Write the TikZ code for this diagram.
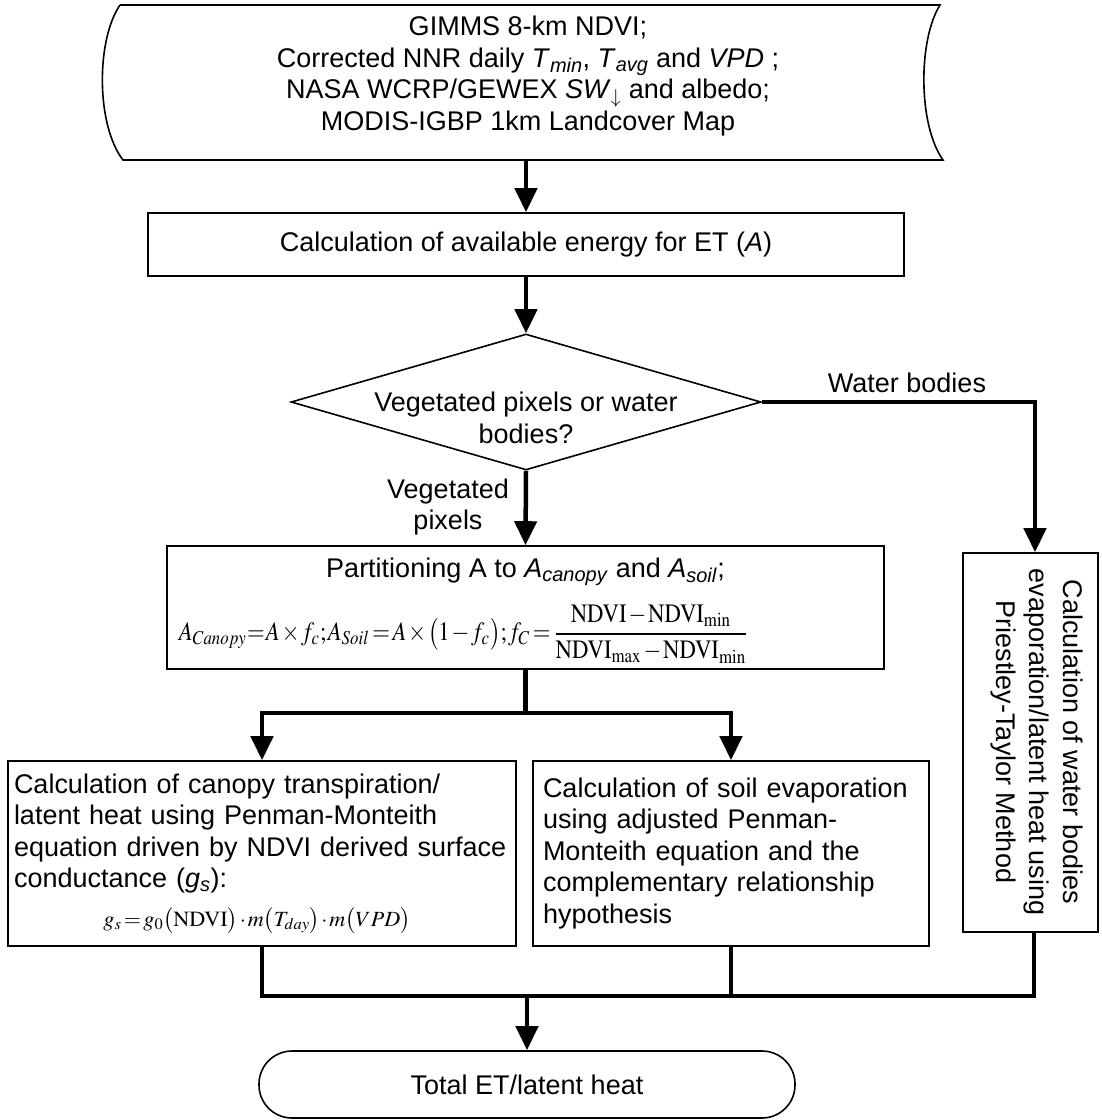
\documentclass[tikz,border=0pt]{standalone}
\usepackage{amsmath}
\usepackage{mathptmx}
\usepackage[no-math]{fontspec}
\setmainfont{Liberation Sans}
\usepackage{graphicx}
\usetikzlibrary{arrows.meta,shapes.geometric,calc}
\newcommand{\tightmath}{\thinmuskip=1mu\medmuskip=1.5mu\thickmuskip=2mu}
\begin{document}
\begin{tikzpicture}[x=1pt,y=-1pt,
  box/.style={draw, line width=1.6pt, inner sep=0pt},
  conn/.style={line width=4.5pt, -{Triangle[width=22pt,length=24pt]}},
  thk/.style={line width=4.5pt},
  txt/.style={font=\fontsize{27}{31.5}\selectfont, inner sep=0pt, align=center}]
\useasboundingbox (0,0) rectangle (1102,1120);

% input data (stored data shape)
\draw[line width=1.6pt] (120,5) -- (940,5) .. controls (918,40) and (918,125) .. (943,160)
  -- (123,160) .. controls (96,125) and (96,40) .. (120,5);
\node[txt] (src) at (528,76) {GIMMS 8-km NDVI;\\ Corrected NNR daily \textit{T}\textsubscript{\textit{min}}, \textit{T}\textsubscript{\textit{avg}} and \textit{VPD} ;\\ NASA WCRP/GEWEX \textit{SW}\textsubscript{$\downarrow$} and albedo;\\ MODIS-IGBP 1km Landcover Map};
\coordinate (srcb) at (526,160);

\node[box, txt, minimum width=756, minimum height=63] (b2) at (526,244.5) {Calculation of available energy for ET (\textit{A})};

\node[diamond, box, minimum width=470, minimum height=136] (dia) at (526,402) {};
\node[txt, font=\fontsize{27}{32}\selectfont] (diat) at (526,418) {Vegetated pixels or water\\ bodies?};

\node[txt] (veg) at (448,507) {Vegetated\\ pixels};
\node[txt] (wat) at (907,383) {Water bodies};

\node[box, minimum width=717, minimum height=123] (pb) at (525.5,607.5) {};
\node[txt] (pbt) at (525.5,572) {Partitioning A to \textit{A}\textsubscript{\textit{canopy}} and \textit{A}\textsubscript{\textit{soil}};};
\node[inner sep=0pt] (pbf) at (464,634) {\resizebox*{570pt}{58pt}{\tightmath$A_{Canopy}{=}\,A\times f_c;A_{Soil}=A\times\bigl(1-f_c\bigr);f_C=\dfrac{\mathrm{NDVI}-\mathrm{NDVI}_{\min}}{\mathrm{NDVI}_{\max}-\mathrm{NDVI}_{\min}}$}};

\node[box, txt, align=left, text width=496pt, inner xsep=6pt, minimum width=508, minimum height=185] (lb) at (262,853.5)
 {Calculation of canopy transpiration/\\ latent heat using Penman-Monteith\\ equation driven by NDVI derived surface\\ conductance (\textit{g}\textsubscript{\textit{s}}):\\[7pt]
  \makebox[486pt][c]{\resizebox*{307pt}{26pt}{\tightmath$g_s=g_0\bigl(\mathrm{NDVI}\bigr)\cdot m\bigl(T_{day}\bigr)\cdot m\bigl(VPD\bigr)$}}};

\node[box, txt, align=left, text width=376pt, inner xsep=10pt, minimum width=396, minimum height=185] (mb) at (731,853.5)
 {Calculation of soil evaporation\\ using adjusted Penman-\\ Monteith equation and the\\ complementary relationship\\ hypothesis};

\node[box, minimum width=135, minimum height=379] (rb) at (1030.5,742.5) {};
\node[txt, font=\fontsize{27}{33.5}\selectfont, rotate=-90] (rbt) at (1036.5,742) {Calculation of water bodies\\ evaporation/latent heat using\\ Priestley-Taylor Method};

\node[box, txt, rounded corners=33pt, minimum width=536, minimum height=67] (term) at (527,1084.5) {Total ET/latent heat};

% connectors
\draw[conn] (srcb) -- (b2.north);
\draw[conn] (b2.south) -- (dia.north);
\draw[conn] (dia.south) -- (pb.north);
\coordinate (rbin) at ($(rb.north)+(4.5,0)$);
\draw[conn] (dia.east) -| (rbin);
\coordinate (br) at (525.5,713);
\draw[thk] (pb.south) -- (br);
\draw[conn] (br) -| (lb.north);
\draw[conn] (br) -| (mb.north);
\coordinate (mj) at (527,996);
\coordinate (rbout) at ($(rb.south)+(3.5,0)$);
\draw[thk] (lb.south) |- (mj);
\draw[thk] (mb.south) |- (mj);
\draw[thk] (rbout) |- (mj);
\draw[conn] (mj) -- (term.north);
\end{tikzpicture}
\end{document}
